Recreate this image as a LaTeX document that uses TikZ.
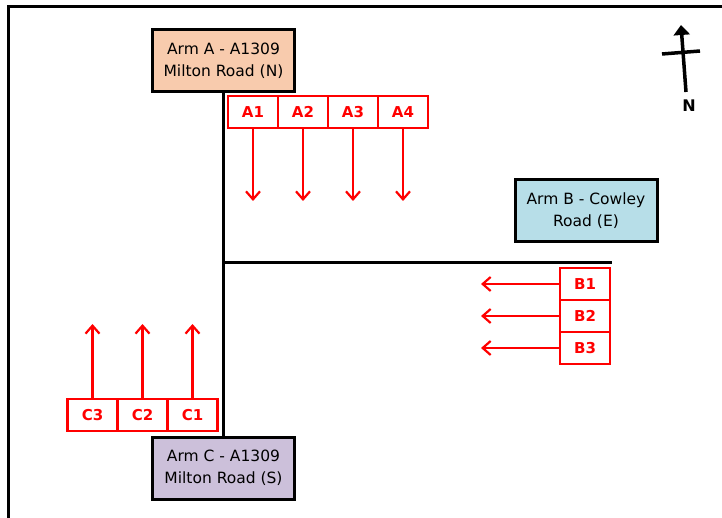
\documentclass[tikz,border=0pt]{standalone}
\usepackage{fontspec}
\setmainfont{DejaVu Sans}
\usetikzlibrary{arrows.meta, positioning}
\definecolor{armpeach}{HTML}{F8CBAD}
\definecolor{armblue}{HTML}{B7DEE8}
\definecolor{armlilac}{HTML}{CCC0DA}
\definecolor{lanered}{HTML}{FF0000}

\tikzset{
  armbox/.style={draw=black, line width=3pt, minimum width=142pt, minimum height=62pt,
    align=center, inner sep=0pt, outer sep=0pt, font=\fontsize{15.5}{22}\selectfont},
  lanebox/.style={draw=lanered, line width=2.5pt, fill=white, text=lanered,
    minimum width=50pt, minimum height=32pt, inner sep=0pt, outer sep=0pt,
    font=\fontsize{15}{17}\selectfont\bfseries},
  lanearrow/.style={draw=lanered, line width=2.2pt, -{Straight Barb[length=8pt,width=14pt]}},
  road/.style={line width=3pt}
}

\begin{document}
\begin{tikzpicture}[x=1pt, y=-1pt, node distance=0pt]
  \useasboundingbox (0,0) rectangle (722,518);
  % frame
  \draw[line width=3pt] (8,530) -- (8,7) -- (730,7);

  % arms
  \node[armbox, fill=armpeach] (armA) at (223.5,60.5) {Arm A - A1309\\Milton Road (N)};
  \node[armbox, fill=armblue] (armB) at (586,210.5) {Arm B - Cowley\\Road (E)};
  \node[armbox, fill=armlilac] (armC) at (223.5,468) {Arm C - A1309\\Milton Road (S)};

  % roads
  \draw[road] (armA.south) -- (armC.north);
  \coordinate (junction) at (armA.south |- 0,263);
  \coordinate (roadend) at (612,263);
  \draw[road] (junction) -- (roadend);

  % arm A lanes
  \node[lanebox] (A1) at (253,112) {A1};
  \node[lanebox, right=of A1] (A2) {A2};
  \node[lanebox, right=of A2] (A3) {A3};
  \node[lanebox, right=of A3] (A4) {A4};
  \foreach \n in {1,...,4} {
    \coordinate[below=73pt of A\n.south] (A\n tip);
    \draw[lanearrow] (A\n.south) -- (A\n tip);
  }

  % arm B lanes
  \node[lanebox] (B1) at (585,284) {B1};
  \node[lanebox, below=of B1] (B2) {B2};
  \node[lanebox, below=of B2] (B3) {B3};
  \foreach \n in {1,...,3} {
    \coordinate[left=79pt of B\n.west] (B\n tip);
    \draw[lanearrow] (B\n.west) -- (B\n tip);
  }

  % arm C lanes
  \node[lanebox] (C1) at (192.5,415) {C1};
  \node[lanebox, left=of C1] (C2) {C2};
  \node[lanebox, left=of C2] (C3) {C3};
  \foreach \n in {1,...,3} {
    \coordinate[above=75pt of C\n.north] (C\n tip);
    \draw[lanearrow] (C\n.north) -- (C\n tip);
  }

  % north arrow
  \node[font=\fontsize{16}{18}\selectfont\bfseries] (north) at (689,106) {N};
  \coordinate (ntail) at (686,92);
  \coordinate (nhead) at (681,25);
  \coordinate (barL) at (662,54);
  \coordinate (barR) at (700,51);
  \draw[line width=3.5pt, -{Triangle[length=10pt,width=16pt]}] (ntail) -- (nhead);
  \draw[line width=3.5pt] (barL) -- (barR);
\end{tikzpicture}
\end{document}
